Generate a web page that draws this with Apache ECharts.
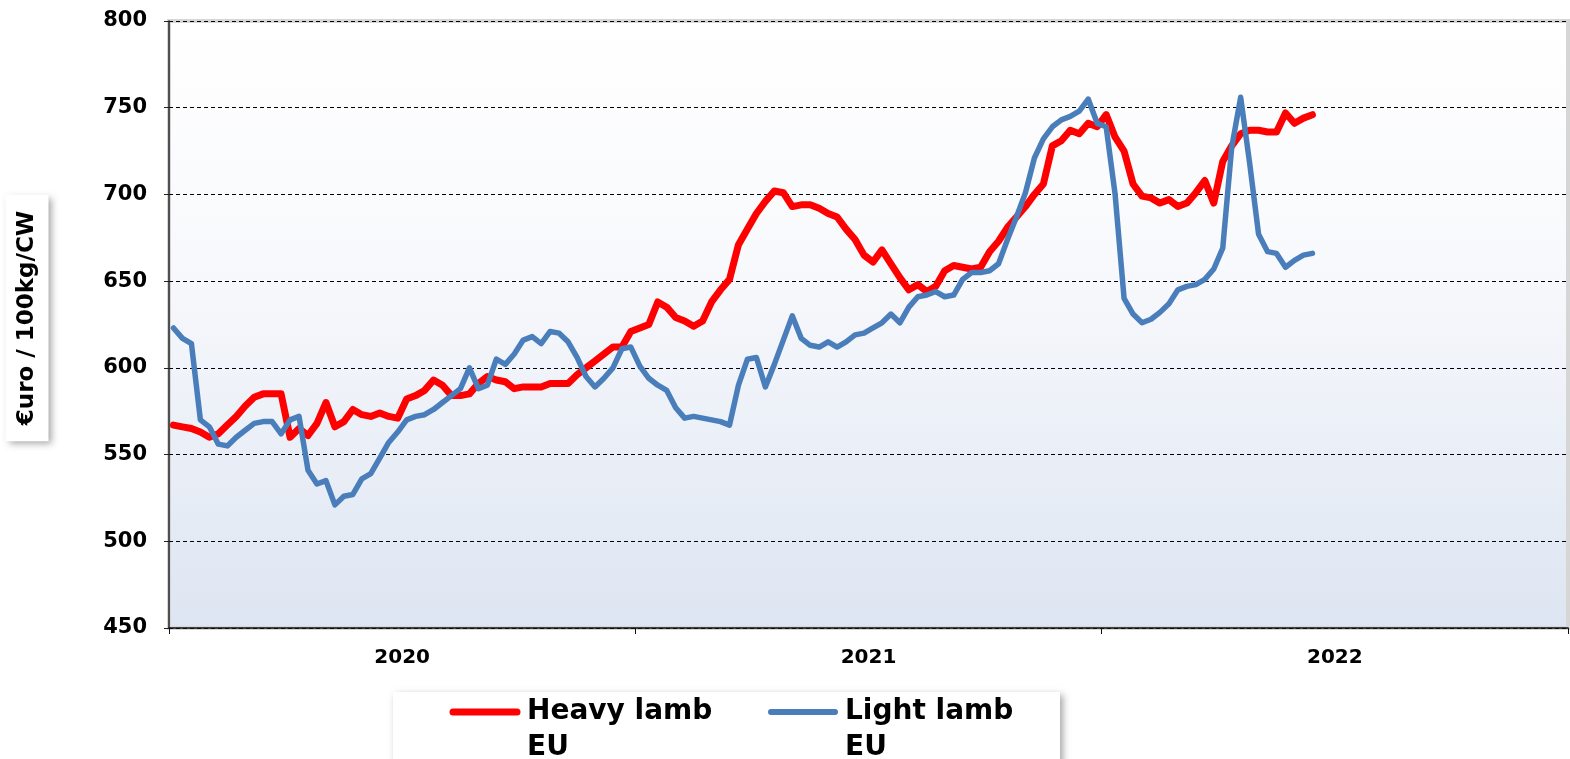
<!DOCTYPE html>
<html>
<head>
<meta charset="utf-8">
<script src="https://cdn.jsdelivr.net/npm/echarts@6/dist/echarts.min.js"></script>
<style>
  html, body { margin: 0; padding: 0; background: #fff; }
  #chart { width: 1570px; height: 759px; }
</style>
</head>
<body>
<div id="chart"></div>
<script>
// weekly prices, €/100kg carcass weight
var years = ['2020', '2021', '2022'];

var weeks = [];
for (var y = 0; y < years.length; y++) {
  for (var w = 1; w <= 52; w++) {
    weeks.push(years[y] + '-W' + (w < 10 ? '0' + w : w));
  }
}

var heavyLamb = [
  567, 566, 565, 563, 560, 562, 567, 572, 578, 583, 585, 585, 585, 560, 565, 561, 568, 580, 566, 569, 576, 573,
  572, 574, 572, 571, 582, 584, 587, 593, 590, 584, 584, 585, 591, 595, 593, 592, 588, 589, 589, 589, 591,
  591, 591, 596, 600, 604, 608, 612, 612, 621, 623, 625, 638, 635, 629, 627, 624, 627, 638, 645, 651, 671,
  680, 689, 696, 702, 701, 693, 694, 694, 692, 689, 687, 680, 674, 665, 661, 668, 660, 652, 645, 648, 644,
  647, 656, 659, 658, 657, 658, 667, 673, 681, 687, 693, 700, 706, 728, 731, 737, 735, 741, 739, 746, 733,
  725, 706, 699, 698, 695, 697, 693, 695, 701, 708, 695, 719, 728, 735, 737, 737, 736, 736, 747, 741, 744, 746
];

var lightLamb = [
  623, 617, 614, 570, 566, 556, 555, 560, 564, 568, 569, 569, 562, 570, 572, 541, 533, 535, 521, 526, 527, 536,
  539, 548, 557, 563, 570, 572, 573, 576, 580, 584, 588, 600, 588, 590, 605, 602, 608, 616, 618, 614, 621,
  620, 615, 606, 595, 589, 594, 600, 611, 612, 601, 594, 590, 587, 577, 571, 572, 571, 570, 569, 567, 590,
  605, 606, 589, 602, 616, 630, 617, 613, 612, 615, 612, 615, 619, 620, 623, 626, 631, 626, 635, 641, 642,
  644, 641, 642, 651, 655, 655, 656, 660, 674, 687, 701, 721, 732, 739, 743, 745, 748, 755, 741, 739, 700,
  640, 631, 626, 628, 632, 637, 645, 647, 648, 651, 657, 669, 727, 756, 718, 677, 667, 666, 658, 662, 665, 666
];

var seriesNames = ['Heavy lamb\nEU', 'Light lamb\nEU'];
var seriesColors = ['#ff0000', '#4a7ebb'];

var chart = echarts.init(document.getElementById('chart'));

var boldFont = 'DejaVu Sans';
var shadow = {
  shadowBlur: 7,
  shadowColor: 'rgba(0,0,0,0.35)',
  shadowOffsetX: 3,
  shadowOffsetY: 3
};

// legend drawn by hand: line sample lined up with the first text row, like the excel one
function legendItem(x, i) {
  return [{
    type: 'line',
    shape: { x1: x + 4, y1: 712, x2: x + 68, y2: 712 },
    style: { stroke: seriesColors[i], lineWidth: i == 0 ? 7 : 6, lineCap: 'round' }
  }, {
    type: 'text',
    x: x + 78,
    y: 694,
    style: {
      text: seriesNames[i],
      font: 'bold 28px "DejaVu Sans"',
      lineHeight: 36,
      fill: '#000',
      verticalAlign: 'top'
    }
  }];
}

var legendGraphics = [{
  type: 'rect',
  shape: { x: 393, y: 692, width: 667, height: 90 },
  style: Object.assign({ fill: '#fff' }, shadow)
}].concat(legendItem(449, 0), legendItem(767, 1));

var option = {
  animation: false,
  grid: {
    left: 169,
    right: 2,
    top: 21,
    bottom: 131,
    show: true,
    borderColor: '#d6d6d6',
    borderWidth: 4,
    backgroundColor: new echarts.graphic.LinearGradient(0, 0, 0, 1, [
      { offset: 0, color: '#ffffff' },
      { offset: 0.4, color: '#f8f9fc' },
      { offset: 1, color: '#dde5f2' }
    ])
  },
  xAxis: [{
    type: 'category',
    data: weeks,
    boundaryGap: true,
    show: false
  }, {
    type: 'category',
    data: years,
    boundaryGap: true,
    position: 'bottom',
    axisLine: { show: true, lineStyle: { color: '#111', width: 1.5 } },
    axisTick: { show: true, length: 6, lineStyle: { color: '#111', width: 1 } },
    axisLabel: {
      color: '#000',
      fontFamily: boldFont,
      fontWeight: 'bold',
      fontSize: 20,
      margin: 20
    },
    splitLine: { show: false }
  }],
  yAxis: {
    type: 'value',
    min: 450,
    max: 800,
    interval: 50,
    axisLine: { show: true, lineStyle: { color: '#222', width: 1.5 } },
    axisTick: { show: true, length: 5, lineStyle: { color: '#222' } },
    axisLabel: {
      color: '#000',
      fontFamily: boldFont,
      fontWeight: 'bold',
      fontSize: 21,
      margin: 22
    },
    splitLine: {
      show: true,
      lineStyle: { color: '#000', width: 1, type: [4, 3] }
    }
  },
  graphic: [{
    type: 'text',
    x: 27,
    y: 318,
    rotation: Math.PI / 2,
    style: Object.assign({
      text: '€uro / 100kg/CW',
      font: 'bold 23px "DejaVu Sans"',
      fill: '#000',
      align: 'center',
      verticalAlign: 'middle',
      backgroundColor: '#fff',
      padding: [10, 16]
    }, shadow)
  }].concat(legendGraphics),
  series: [{
    name: seriesNames[0],
    type: 'line',
    xAxisIndex: 0,
    data: heavyLamb,
    symbol: 'none',
    lineStyle: { color: seriesColors[0], width: 7, cap: 'round', join: 'round' },
    itemStyle: { color: seriesColors[0] }
  }, {
    name: seriesNames[1],
    type: 'line',
    xAxisIndex: 0,
    data: lightLamb,
    symbol: 'none',
    lineStyle: { color: seriesColors[1], width: 5.5, cap: 'round', join: 'round' },
    itemStyle: { color: seriesColors[1] }
  }]
};

chart.setOption(option);
</script>
</body>
</html>
